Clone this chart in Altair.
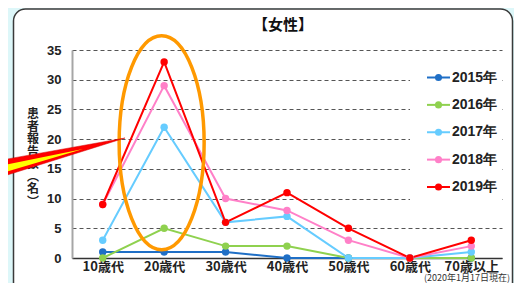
import altair as alt
import pandas as pd

# ---- data ----
categories = ["10歳代", "20歳代", "30歳代", "40歳代", "50歳代", "60歳代", "70歳以上"]
years = ["2015年", "2016年", "2017年", "2018年", "2019年"]
v2015 = [1, 1, 1, 0, 0, 0, 0]
v2016 = [0, 5, 2, 2, 0, 0, 0]
v2017 = [3, 22, 6, 7, 0, 0, 1]
v2018 = [9, 29, 10, 8, 3, 0, 2]
v2019 = [9, 33, 6, 11, 5, 0, 3]
colors = ["#1f6fc6", "#8fd14f", "#66ccff", "#ff80c8", "#ff0000"]
y_ticks = [0, 5, 10, 15, 20, 25, 30, 35]
title_text = "【女性】"
y_title_lines = ["患", "者", "報", "告", "数", "︵", "名", "︶"]
footnote = "(2020年1月17日現在)"
highlight_cat = ["20歳代"]
highlight_val = [19.4]

CJK = "Noto Sans CJK JP"
LAT = "Liberation Sans"

rows = []
for yr, vals in zip(years, [v2015, v2016, v2017, v2018, v2019]):
    for c, v in zip(categories, vals):
        rows.append({"cat": c, "year": yr, "value": v})
df = pd.DataFrame(rows)
one = pd.DataFrame({"k": [0]})

xscale = alt.Scale(domain=categories)
yscale = alt.Scale(domain=[0, 35])
cscale = alt.Scale(domain=years, range=colors)

x_axis = alt.Axis(title=None, labelAngle=0, labelFont=CJK, labelFontSize=13,
                  labelFontWeight="bold", labelColor="#222222", ticks=False,
                  domainColor="#333333", domainWidth=1.5, grid=False, labelPadding=2)
y_axis = alt.Axis(title=None, values=y_ticks, labelFont=LAT, labelFontSize=13,
                  labelFontWeight="bold", labelColor="#222222", ticks=False,
                  labelPadding=11, domainColor="#a6a6a6", domainWidth=2,
                  grid=True, gridColor="#555555", gridDash=[4, 3], gridWidth=1,
                  labelOverlap=False)

W, H = 430, 208

# ---- frame ----
cyan_edge = alt.Chart(one).mark_rect(filled=False, stroke="#ddf7f9", strokeWidth=20,
                                     cornerRadius=22).encode(
    x=alt.value(-68.5), x2=alt.value(450.5), y=alt.value(-51), y2=alt.value(270))
frame = alt.Chart(one).mark_rect(filled=False, stroke="#3a3a3a", strokeWidth=1.5,
                                 cornerRadius=12).encode(
    x=alt.value(-58.5), x2=alt.value(440.5), y=alt.value(-41), y2=alt.value(260))
legend_box = alt.Chart(one).mark_rect(color="white").encode(
    x=alt.value(338), x2=alt.value(430), y=alt.value(5), y2=alt.value(165))

# ---- data layers ----
lines = alt.Chart(df).mark_line(strokeWidth=2).encode(
    x=alt.X("cat:N", scale=xscale, axis=x_axis),
    y=alt.Y("value:Q", scale=yscale, axis=y_axis),
    color=alt.Color("year:N", scale=cscale, legend=None))
points = alt.Chart(df).mark_circle(size=55, opacity=1).encode(
    x=alt.X("cat:N", scale=xscale, axis=x_axis),
    y=alt.Y("value:Q", scale=yscale, axis=y_axis),
    color=alt.Color("year:N", scale=cscale, legend=None))
ell_df = pd.DataFrame({"cat": highlight_cat, "value": highlight_val})
ellipse = alt.Chart(ell_df).mark_point(
    shape="M-42.5,0A42.5,107 0 1,1 42.5,0A42.5,107 0 1,1 -42.5,0Z",
    size=4, filled=False, stroke="#ff9900", strokeWidth=3.5, opacity=1,
    xOffset=-2.5).encode(
    x=alt.X("cat:N", scale=xscale, axis=x_axis),
    y=alt.Y("value:Q", scale=yscale, axis=y_axis))
main = alt.layer(lines, points, ellipse)

# ---- legend ----
leg_df = pd.DataFrame({"year": years})
leg_y = alt.Y("year:N", scale=alt.Scale(domain=years, range=[27.5, 137], type="point", padding=0), axis=None)
leg_col = alt.Color("year:N", scale=cscale, legend=None)
leg_rule = alt.Chart(leg_df).mark_rule(strokeWidth=2).encode(
    y=leg_y, x=alt.value(355), x2=alt.value(378), color=leg_col)
leg_pt = alt.Chart(leg_df).mark_circle(size=50, opacity=1).encode(
    y=leg_y, x=alt.value(366.5), color=leg_col)
leg_txt = alt.Chart(leg_df).mark_text(align="left", baseline="middle", font=LAT,
                                      fontSize=14, fontWeight="bold", color="#222222").encode(
    y=leg_y, x=alt.value(380), text="year:N")
legend = alt.layer(leg_rule, leg_pt, leg_txt)

# ---- annotations ----
arrow_red = alt.Chart(one).mark_point(
    shape="M0,0L-140,25L-140,44Z", size=4, filled=True, fill="#ff0000",
    stroke="#d00000", strokeWidth=0.5, opacity=1).encode(x=alt.value(53), y=alt.value(88))
arrow_yel = alt.Chart(one).mark_point(
    shape="M-42,11L-140,31L-140,40Z", size=4, filled=True, fill="#ffff00",
    strokeWidth=0, opacity=1).encode(x=alt.value(53), y=alt.value(88))
y_title = alt.Chart(one).mark_text(text=y_title_lines, lineHeight=12.5, font=CJK, fontSize=12,
                                   fontWeight="bold", color="#222222", align="center",
                                   baseline="middle").encode(x=alt.value(-39), y=alt.value(64))
title = alt.Chart(one).mark_text(text=title_text, font=CJK, fontSize=15, fontWeight="bold",
                                 color="#111111", align="center", baseline="middle").encode(
    x=alt.value(211), y=alt.value(-25))
foot = alt.Chart(one).mark_text(text=footnote, font=CJK, fontSize=9, color="#333333",
                                align="right", baseline="alphabetic").encode(
    x=alt.value(438), y=alt.value(231))

chart = alt.layer(
    cyan_edge, frame, legend_box, main, legend, y_title, arrow_red, arrow_yel, title, foot
).resolve_scale(y="independent").properties(
    width=W, height=H,
    autosize=alt.AutoSizeParams(type="none"),
    padding={"left": 64, "top": 42, "right": 12, "bottom": 25},
    background="white",
).configure_view(stroke=None)

chart.save("out.html", embed_options={"renderer": "svg", "actions": False})
